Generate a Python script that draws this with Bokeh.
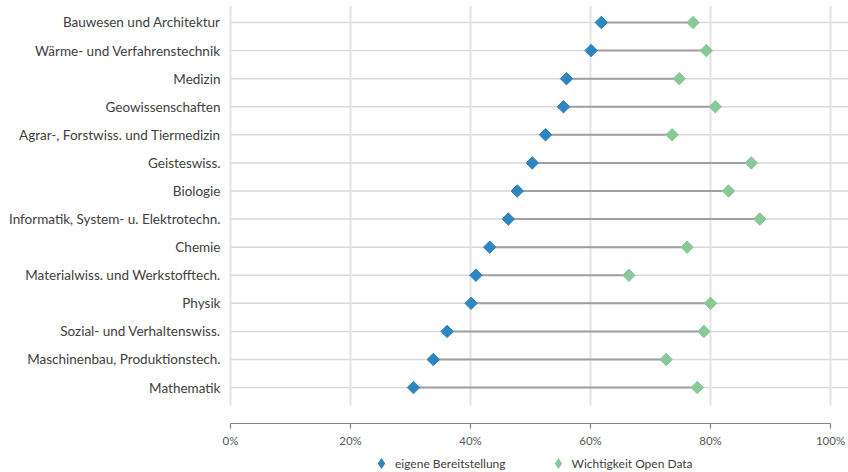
from bokeh.plotting import figure
from bokeh.models import Legend, LegendItem, Range1d
from bokeh.core.properties import value
from bokeh.embed import file_html
from bokeh.resources import INLINE

categories = [
    "Bauwesen und Architektur",
    "Wärme- und Verfahrenstechnik",
    "Medizin",
    "Geowissenschaften",
    "Agrar-, Forstwiss. und Tiermedizin",
    "Geisteswiss.",
    "Biologie",
    "Informatik, System- u. Elektrotechn.",
    "Chemie",
    "Materialwiss. und Werkstofftech.",
    "Physik",
    "Sozial- und Verhaltenswiss.",
    "Maschinenbau, Produktionstech.",
    "Mathematik",
]
eigene = [61.8, 60.1, 56.0, 55.5, 52.5, 50.3, 47.8, 46.3, 43.2, 40.9, 40.1, 36.1, 33.8, 30.5]
wichtigkeit = [77.1, 79.3, 74.8, 80.8, 73.6, 86.8, 83.0, 88.2, 76.1, 66.4, 80.0, 78.9, 72.6, 77.8]
x_ticks = [0, 20, 40, 60, 80, 100]
x_tick_labels = ["0%", "20%", "40%", "60%", "80%", "100%"]
series_names = ["eigene Bereitstellung", "Wichtigkeit Open Data"]

BLUE = "#2e86c1"
GREEN = "#88c999"
n = len(categories)
ypos = [n - 1 - i for i in range(n)]  # top category highest

# layout constants (data units: x in percent, y in category steps)
X_LEFT, X_RIGHT = -38.333, 103.0
Y_TOP, Y_BOTTOM = 13.783, -3.024
Y_GRID_TOP = 13.6
Y_GRID_END = -0.64
Y_AXIS = -1.28
Y_TICK_END = -1.46
Y_LABEL = -1.89
X_CAT_LABEL = -1.67

p = figure(frame_width=848, frame_height=472, output_backend="svg", toolbar_location=None,
           x_range=Range1d(X_LEFT, X_RIGHT), y_range=Range1d(Y_BOTTOM, Y_TOP),
           x_axis_location=None, y_axis_location=None,
           min_border_left=0, min_border_right=0, min_border_top=0, min_border_bottom=0)
p.outline_line_color = None
p.background_fill_color = "white"
p.border_fill_color = "white"
p.xgrid.visible = False
p.ygrid.visible = False

# horizontal grid lines at categories
p.segment(x0=[0] * n, x1=[X_RIGHT] * n, y0=ypos, y1=ypos, line_color="#d9d9d9", line_width=1.5)

# vertical grid lines, ending above the axis
p.segment(x0=x_ticks, x1=x_ticks, y0=[Y_GRID_END] * len(x_ticks), y1=[Y_GRID_TOP] * len(x_ticks),
          line_color="#e3e3e3", line_width=2)

# x axis
p.segment(x0=[0], x1=[100], y0=[Y_AXIS], y1=[Y_AXIS], line_color="#808080", line_width=1.2)
p.segment(x0=x_ticks, x1=x_ticks, y0=[Y_AXIS] * len(x_ticks), y1=[Y_TICK_END] * len(x_ticks),
          line_color="#808080", line_width=1.2)
p.text(x=x_ticks, y=[Y_LABEL] * len(x_ticks), text=x_tick_labels,
       text_font=value("Lato"), text_font_size="11.5px", text_color="#595959",
       text_align="center", text_baseline="middle")

# category labels
p.text(x=[X_CAT_LABEL] * n, y=ypos, text=categories,
       text_font=value("Lato"), text_font_size="13.5px", text_color="#404040",
       text_align="right", text_baseline="middle")

# connecting segments
p.segment(x0=eigene, x1=wichtigkeit, y0=ypos, y1=ypos, line_color="#a0a0a0", line_width=2)

# diamond renderers used for the legend (hidden below the rotated squares)
lg_green = p.scatter(wichtigkeit, ypos, marker="diamond", size=12,
                     fill_color=GREEN, line_color=None)
lg_blue = p.scatter(eigene, ypos, marker="diamond", size=12,
                    fill_color=BLUE, line_color=None)

p.scatter(wichtigkeit, ypos, marker="square", size=8.8, angle=0.785398,
          fill_color=GREEN, line_color=GREEN)
p.scatter(eigene, ypos, marker="square", size=8.8, angle=0.785398,
          fill_color=BLUE, line_color=BLUE)

legend = Legend(items=[LegendItem(label=series_names[0], renderers=[lg_blue]),
                       LegendItem(label=series_names[1], renderers=[lg_green])],
                orientation="horizontal", location=(367, -5),
                border_line_color=None, background_fill_alpha=0,
                label_text_font="Lato", label_text_font_size="12px",
                label_text_color="#404040", glyph_width=28, glyph_height=28,
                label_height=12, padding=0, margin=0, spacing=38, label_standoff=0)
p.add_layout(legend, "center")

open("out.html", "w").write(file_html(p, INLINE))
